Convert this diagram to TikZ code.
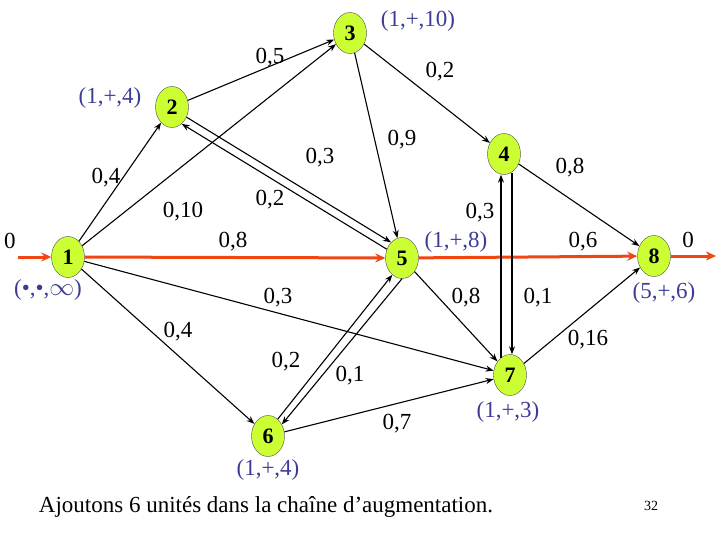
\documentclass[tikz,border=0pt]{standalone}
\usepackage{fontspec}
\setmainfont{Liberation Serif}
\usetikzlibrary{calc,arrows.meta,shapes.geometric}
\definecolor{nodeg}{RGB}{204,255,51}
\definecolor{lblue}{RGB}{60,60,150}
\definecolor{fred}{RGB}{240,70,20}
\begin{document}
\begin{tikzpicture}[x=1pt,y=-1pt,
  vert/.style={ellipse,draw=black!70,fill=nodeg,minimum width=33pt,minimum height=41pt,inner sep=0pt,font=\fontsize{22}{22}\selectfont\bfseries},
  arc/.style={-{Stealth[length=8pt,width=6pt]},line width=1.1pt},
  flow/.style={-{Stealth[length=10pt,width=9pt]},line width=3pt,fred},
  lab/.style={font=\fontsize{23}{23}\selectfont,inner sep=0pt},
  tagl/.style={font=\fontsize{23}{23}\selectfont,inner sep=0pt,text=lblue}]
\useasboundingbox (0,0) rectangle (720,540);
\node[vert] (n1) at (68,257) {1};
\node[vert] (n2) at (172,107) {2};
\node[vert] (n3) at (350,33) {3};
\node[vert] (n4) at (504,154) {4};
\node[vert] (n5) at (402,258) {5};
\node[vert] (n6) at (268,436) {6};
\node[vert] (n7) at (510,375) {7};
\node[vert] (n8) at (654,256) {8};
\coordinate (in) at (18,257);
\coordinate (out) at (716,256);
\draw[flow] (in) -- (n1);
\draw[flow] (n1) -- (n5);
\draw[flow] (n5) -- (n8);
\draw[flow] (n8) -- (out);
\draw[arc] (n1) -- (n2);
\draw[arc] (n1) -- (n3);
\draw[arc] (n2) -- (n3);
\draw[arc] (n2.-35) -- (n5.125);
\draw[arc] (n5.150) -- (n2.-60);
\draw[arc] (n3) -- (n5);
\draw[arc] (n3) -- (n4);
\draw[arc] (n4) -- (n8);
\draw[arc] (n1) -- (n7);
\draw[arc] (n1) -- (n6);
\draw[arc] (n6.60) -- (n5.-120);
\draw[arc] (n5.-90) -- (n6.40);
\draw[arc] (n5) -- (n7);
\draw[arc] ($(n7.north)+(-9,4)$) -- ($(n4.south)+(-3,0)$);
\draw[arc] ($(n4.south)+(8,-2)$) -- ($(n7.north)+(2,0)$);
\draw[arc] (n6) -- (n7);
\draw[arc] (n7) -- (n8);
\node[lab] (l1) at (270,58) {0,5};
\node[lab] (l2) at (440,72) {0,2};
\node[lab] (l3) at (106,178) {0,4};
\node[lab] (l4) at (320,158) {0,3};
\node[lab] (l5) at (402,140) {0,9};
\node[lab] (l6) at (183,212) {0,10};
\node[lab] (l7) at (270,200) {0,2};
\node[lab] (l8) at (233,242) {0,8};
\node[lab] (l9) at (480,213) {0,3};
\node[lab] (l10) at (570,168) {0,8};
\node[lab] (l11) at (583,242) {0,6};
\node[lab] (l12) at (278,298) {0,3};
\node[lab] (l13) at (466,298) {0,8};
\node[lab] (l14) at (538,298) {0,1};
\node[lab] (l15) at (178,332) {0,4};
\node[lab] (l16) at (588,340) {0,16};
\node[lab] (l17) at (286,362) {0,2};
\node[lab] (l18) at (350,376) {0,1};
\node[lab] (l19) at (397,424) {0,7};
\node[lab] (l20) at (10,241) {0};
\node[lab] (l21) at (688,240) {0};
\node[tagl] (m1) at (418,21) {(1,+,10)};
\node[tagl] (m2) at (110,98) {(1,+,4)};
\node[tagl] (m3) at (456,242) {(1,+,8)};
\node[tagl] (m4) at (48,290) {(\textbullet,\textbullet,$\infty$)};
\node[tagl] (m5) at (664,293) {(5,+,6)};
\node[tagl] (m6) at (508,412) {(1,+,3)};
\node[tagl] (m7) at (268,470) {(1,+,4)};
\node[lab] (t) at (266,507) {Ajoutons 6 unités dans la chaîne d’augmentation.};
\node[font=\fontsize{14}{14}\selectfont,inner sep=0pt] (p) at (651,506) {32};
\end{tikzpicture}
\end{document}
